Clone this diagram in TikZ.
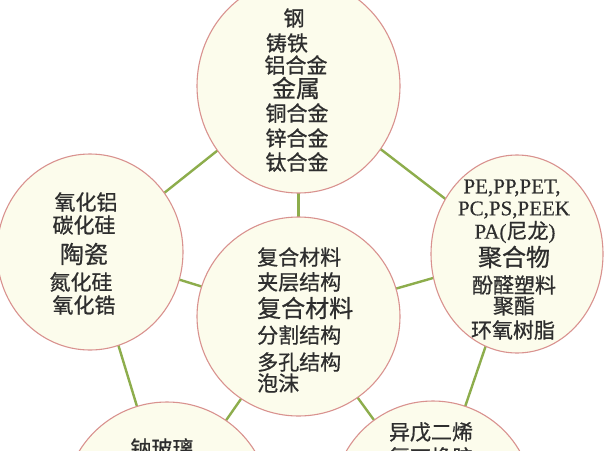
\documentclass[tikz,border=0pt]{standalone}
\usepackage{fontspec}
\setmainfont{Liberation Serif}
\newfontfamily\cjk[FakeBold=0.8]{Noto Sans CJK SC}
\newfontfamily\latinserif[FakeBold=0.4]{Liberation Serif}
\usetikzlibrary{shapes.geometric,backgrounds}
\definecolor{ringline}{HTML}{D9928F}
\definecolor{ringfill}{HTML}{FCFCEC}
\definecolor{linkgreen}{HTML}{8DAD4C}
\definecolor{inkgray}{HTML}{2E2E2E}
\tikzset{
  ring/.style={ellipse, draw=ringline, fill=ringfill, line width=1.1pt, inner sep=0pt},
  link/.style={draw=linkgreen, line width=2.4pt},
  item/.style={inner sep=0pt, text=inkgray, font=\cjk\fontsize{21}{21}\selectfont},
  head/.style={inner sep=0pt, text=inkgray, font=\cjk\fontsize{24}{24}\selectfont},
  latin/.style={inner sep=0pt, text=inkgray, font=\latinserif\fontsize{21}{21}\selectfont}
}
\begin{document}
\begin{tikzpicture}[x=1pt,y=-1pt]
\useasboundingbox (0,0) rectangle (604,450);
\clip (0,0) rectangle (604,450);
% circles
\node[ring, minimum width=203pt, minimum height=214pt] (metal) at (298.5,86) {};
\node[ring, minimum width=186pt, minimum height=196pt] (ceramic) at (90,252) {};
\node[ring, minimum width=172pt, minimum height=198pt] (polymer) at (517,254) {};
\node[ring, minimum width=203pt, minimum height=199pt] (composite) at (298.5,316.5) {};
\node[ring, minimum width=206pt, minimum height=206pt] (glass) at (167,505) {};
\node[ring, minimum width=200pt, minimum height=200pt] (elastomer) at (433,501) {};
% connectors
\begin{pgfonlayer}{background}
\fill[white] (0,0) rectangle (604,450);
\draw[link] (metal.center) -- (composite.center);
\draw[link] (metal.center) -- (ceramic.center);
\draw[link] (metal.center) -- (polymer.center);
\draw[link] (ceramic.center) -- (composite.center);
\draw[link] (polymer.center) -- (composite.center);
\draw[link] (ceramic.center) -- (glass.center);
\draw[link] (composite.center) -- (glass.center);
\draw[link] (composite.center) -- (elastomer.center);
\draw[link] (polymer.center) -- (elastomer.center);
\end{pgfonlayer}
% metal
\node[item] (m1) at (294,18) {钢};
\node[item] (m2) at (287,43) {铸铁};
\node[item] (m3) at (296,65) {铝合金};
\node[head] (m4) at (296,88) {金属};
\node[item] (m5) at (297,113) {铜合金};
\node[item] (m6) at (297,138) {锌合金};
\node[item] (m7) at (297,162) {钛合金};
% ceramics
\node[item] (c1) at (86,202) {氧化铝};
\node[item] (c2) at (84,225) {碳化硅};
\node[head] (c3) at (84,254) {陶瓷};
\node[item] (c4) at (81,282) {氮化硅};
\node[item] (c5) at (84,305) {氧化锆};
% polymers
\node[latin] (p1) at (512,188) {PE,PP,PET,};
\node[latin] (p2) at (514,210) {PC,PS,PEEK};
\node[latin] (p3) at (515,232) {PA(\cjk 尼龙\latinserif )};
\node[head] (p4) at (514,257) {聚合物};
\node[item] (p5) at (514,285) {酚醛塑料};
\node[item] (p6) at (514,306) {聚酯};
\node[item] (p7) at (513,330) {环氧树脂};
% composites
\node[item, anchor=west] (k1) at (257,257) {复合材料};
\node[item, anchor=west] (k2) at (257,282) {夹层结构};
\node[head, anchor=west] (k3) at (257,308) {复合材料};
\node[item, anchor=west] (k4) at (257,335) {分割结构};
\node[item, anchor=west] (k5) at (257,362) {多孔结构};
\node[item, anchor=west] (k6) at (257,383) {泡沫};
% glass
\node[item] (g1) at (162,448) {钠玻璃};
% elastomers
\node[item] (e1) at (431,432) {异戊二烯};
\node[item] (e2) at (431,457) {氯丁橡胶};
\end{tikzpicture}
\end{document}
